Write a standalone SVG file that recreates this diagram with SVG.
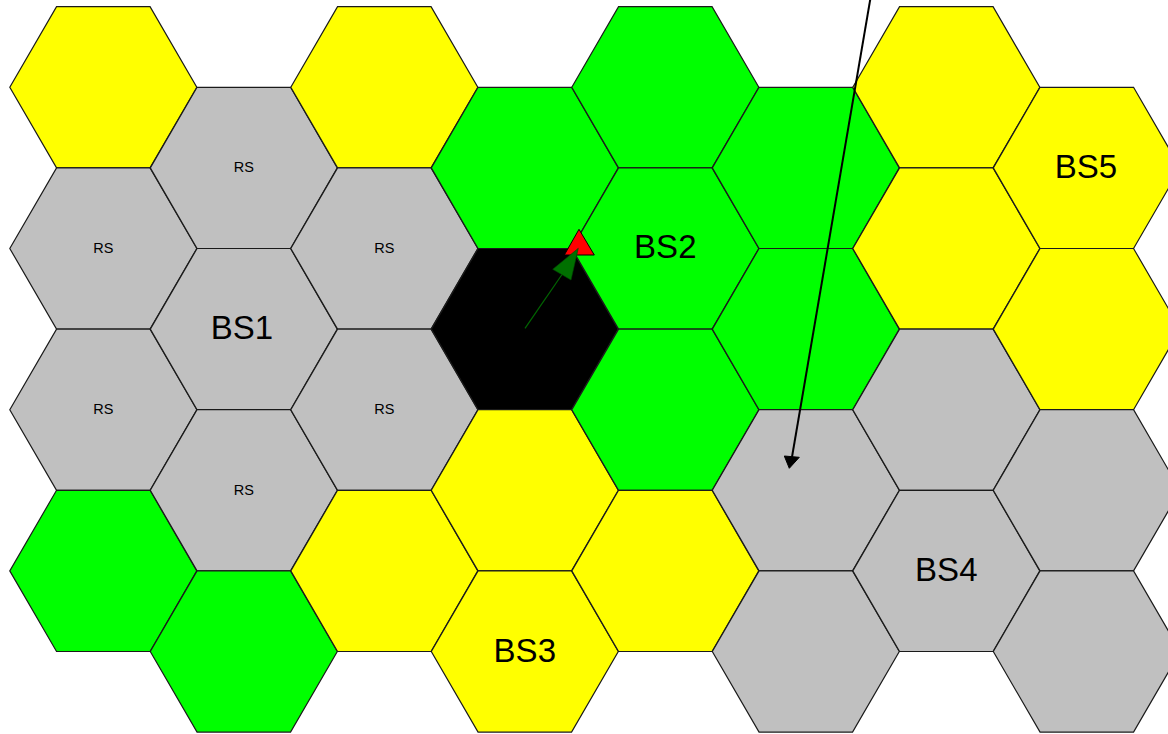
<svg xmlns="http://www.w3.org/2000/svg" xmlns:xlink="http://www.w3.org/1999/xlink" width="1168" height="734" viewBox="0 0 1168 734">
<style>
.y{fill:#FFFF00}.g{fill:#00FF00}.s{fill:#C0C0C0}.k{fill:#000000}
.hex{stroke:#1a1a1a;stroke-width:1.2}
.rs{font-family:"Liberation Sans",Arial,sans-serif;font-size:14.5px;fill:#000;text-anchor:middle}
.bs{font-family:"Liberation Sans",Arial,sans-serif;font-size:33px;fill:#000;text-anchor:middle}
</style>
<defs>
<polygon id="hx" points="-93.5,0 -46.75,-80.6 46.75,-80.6 93.5,0 46.75,80.6 -46.75,80.6"/>
</defs>
<rect width="1168" height="734" fill="#FFFFFF"/>
<g id="nodes">
<g id="c0r0"><use xlink:href="#hx" href="#hx" class="hex y" x="103.3" y="87.3"/></g>
<g id="c0r1"><use xlink:href="#hx" href="#hx" class="hex s" x="103.3" y="248.5"/><text class="rs" x="103.3" y="253">RS</text></g>
<g id="c0r2"><use xlink:href="#hx" href="#hx" class="hex s" x="103.3" y="409.7"/><text class="rs" x="103.3" y="414.2">RS</text></g>
<g id="c0r3"><use xlink:href="#hx" href="#hx" class="hex g" x="103.3" y="570.9"/></g>
<g id="c1r0"><use xlink:href="#hx" href="#hx" class="hex s" x="243.8" y="167.9"/><text class="rs" x="243.8" y="172.4">RS</text></g>
<g id="c1r1"><use xlink:href="#hx" href="#hx" class="hex s" x="243.8" y="329.1"/><text class="bs" x="242" y="338.5">BS1</text></g>
<g id="c1r2"><use xlink:href="#hx" href="#hx" class="hex s" x="243.8" y="490.3"/><text class="rs" x="243.8" y="494.8">RS</text></g>
<g id="c1r3"><use xlink:href="#hx" href="#hx" class="hex g" x="243.8" y="651.5"/></g>
<g id="c2r0"><use xlink:href="#hx" href="#hx" class="hex y" x="384.3" y="87.3"/></g>
<g id="c2r1"><use xlink:href="#hx" href="#hx" class="hex s" x="384.3" y="248.5"/><text class="rs" x="384.3" y="253">RS</text></g>
<g id="c2r2"><use xlink:href="#hx" href="#hx" class="hex s" x="384.3" y="409.7"/><text class="rs" x="384.3" y="414.2">RS</text></g>
<g id="c2r3"><use xlink:href="#hx" href="#hx" class="hex y" x="384.3" y="570.9"/></g>
<g id="c3r0"><use xlink:href="#hx" href="#hx" class="hex g" x="524.8" y="167.9"/></g>
<g id="c3r1"><use xlink:href="#hx" href="#hx" class="hex k" x="524.8" y="329.1"/></g>
<g id="c3r2"><use xlink:href="#hx" href="#hx" class="hex y" x="524.8" y="490.3"/></g>
<g id="c3r3"><use xlink:href="#hx" href="#hx" class="hex y" x="524.8" y="651.5"/><text class="bs" x="524.8" y="662">BS3</text></g>
<g id="c4r0"><use xlink:href="#hx" href="#hx" class="hex g" x="665.3" y="87.3"/></g>
<g id="c4r1"><use xlink:href="#hx" href="#hx" class="hex g" x="665.3" y="248.5"/><text class="bs" x="665.3" y="258">BS2</text></g>
<g id="c4r2"><use xlink:href="#hx" href="#hx" class="hex g" x="665.3" y="409.7"/></g>
<g id="c4r3"><use xlink:href="#hx" href="#hx" class="hex y" x="665.3" y="570.9"/></g>
<g id="c5r0"><use xlink:href="#hx" href="#hx" class="hex g" x="805.8" y="167.9"/></g>
<g id="c5r1"><use xlink:href="#hx" href="#hx" class="hex g" x="805.8" y="329.1"/></g>
<g id="c5r2"><use xlink:href="#hx" href="#hx" class="hex s" x="805.8" y="490.3"/></g>
<g id="c5r3"><use xlink:href="#hx" href="#hx" class="hex s" x="805.8" y="651.5"/></g>
<g id="c6r0"><use xlink:href="#hx" href="#hx" class="hex y" x="946.3" y="87.3"/></g>
<g id="c6r1"><use xlink:href="#hx" href="#hx" class="hex y" x="946.3" y="248.5"/></g>
<g id="c6r2"><use xlink:href="#hx" href="#hx" class="hex s" x="946.3" y="409.7"/></g>
<g id="c6r3"><use xlink:href="#hx" href="#hx" class="hex s" x="946.3" y="570.9"/><text class="bs" x="946.3" y="580.5">BS4</text></g>
<g id="c7r0"><use xlink:href="#hx" href="#hx" class="hex y" x="1086.8" y="167.9"/><text class="bs" x="1086" y="177.5">BS5</text></g>
<g id="c7r1"><use xlink:href="#hx" href="#hx" class="hex y" x="1086.8" y="329.1"/></g>
<g id="c7r2"><use xlink:href="#hx" href="#hx" class="hex s" x="1086.8" y="490.3"/></g>
<g id="c7r3"><use xlink:href="#hx" href="#hx" class="hex s" x="1086.8" y="651.5"/></g>
<g id="mobile"><polygon points="579,229.3 564.3,255 594.3,255" fill="#FF0000" stroke="#000" stroke-width="1"/></g>
</g>
<g id="connectors">
<line x1="525" y1="328.3" x2="562" y2="274.5" stroke="#006600" stroke-width="1.2"/>
<polygon points="578.3,248.3 552.7,269.3 571,280" fill="#007000" stroke="#004400" stroke-width="0.6"/>
<line x1="871" y1="-5" x2="792" y2="457" stroke="#000" stroke-width="2"/>
<polygon points="789.3,468.3 784.3,456 799.3,457.3" fill="#000" stroke="#000" stroke-width="1"/>
</g>
</svg>
